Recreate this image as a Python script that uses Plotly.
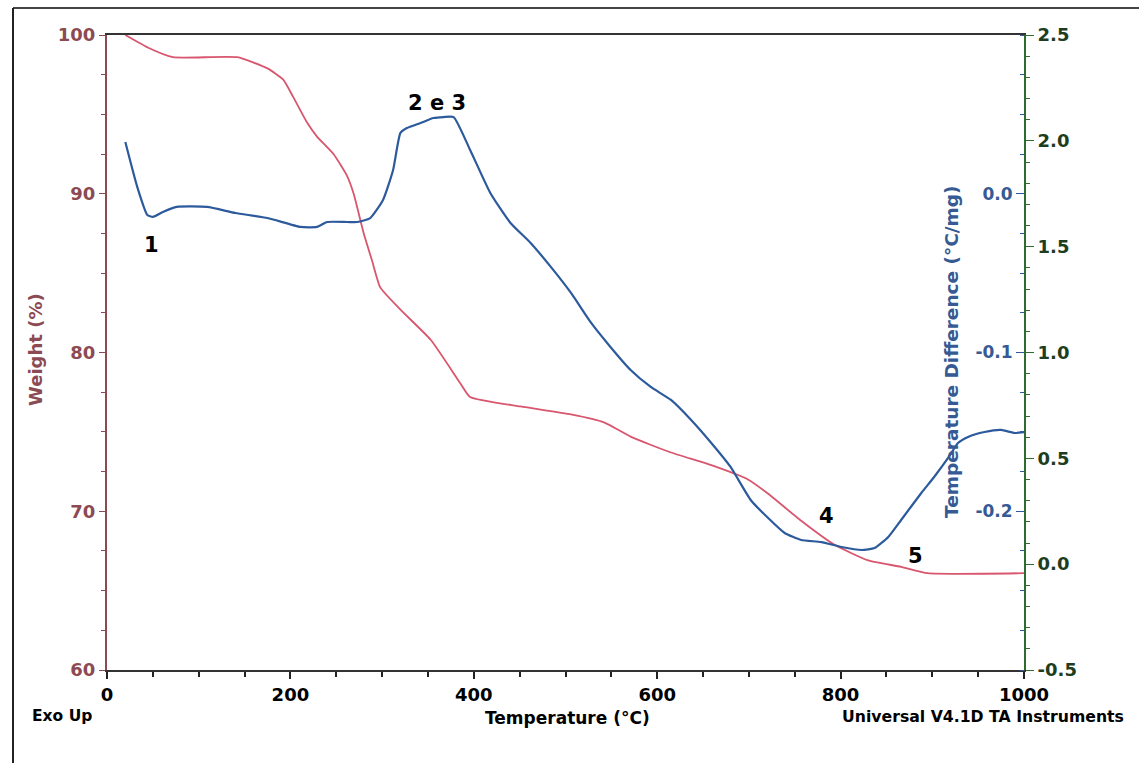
import plotly.graph_objects as go

# Thermogravimetric (TGA) weight curve
temp_weight = [20, 45, 72, 142, 175, 192, 203, 218, 229, 247, 262, 269, 280, 289, 298, 320,
               353, 386, 396, 451, 506, 542, 571, 615, 659, 699, 721, 757, 793, 830, 866, 895, 1000]
weight_pct = [100, 99.2, 98.6, 98.6, 97.9, 97.2, 96.1, 94.5, 93.6, 92.5, 91.1, 90.0, 87.5, 85.8, 84.1, 82.7,
              80.8, 78.0, 77.2, 76.6, 76.1, 75.6, 74.7, 73.7, 72.9, 72.0, 71.1, 69.4, 67.9, 66.9, 66.5, 66.1, 66.1]

# Differential thermal analysis (DTA) curve
temp_dta = [20, 33, 44, 50, 61, 76, 109, 140, 175, 211, 229, 240, 262, 273, 287, 301, 312, 320, 327, 342,
            356, 367, 378, 396, 418, 440, 462, 484, 506, 528, 549, 571, 593, 615, 637, 659, 680, 702, 721,
            739, 757, 779, 801, 823, 837, 852, 866, 888, 902, 918, 928, 939, 957, 975, 990, 1000]
temp_diff = [0.0326, 0.0043, -0.0134, -0.0146, -0.0115, -0.0083, -0.0083, -0.0121, -0.0153, -0.0209,
             -0.0209, -0.0178, -0.0178, -0.0178, -0.0153, -0.0039, 0.0150, 0.0383, 0.0414, 0.0446,
             0.0477, 0.0483, 0.0483, 0.0276, 0.0005, -0.0184, -0.0310, -0.0461, -0.0625, -0.0814,
             -0.0965, -0.1110, -0.1217, -0.1299, -0.1425, -0.1570, -0.1721, -0.1929, -0.2043, -0.2137,
             -0.2181, -0.2194, -0.2225, -0.2244, -0.2232, -0.2162, -0.2055, -0.1885, -0.1784, -0.1658,
             -0.1570, -0.1532, -0.1501, -0.1488, -0.1507, -0.1501]

x_ticks = [0, 200, 400, 600, 800, 1000]
weight_ticks = [60, 70, 80, 90, 100]
diff_ticks = [-0.2, -0.1, 0.0]
deriv_ticks = [-0.5, 0.0, 0.5, 1.0, 1.5, 2.0, 2.5]

# Peak labels: (text, temperature, weight-axis position)
peak_labels = [("1", 49, 86.8), ("2 e 3", 360, 95.7), ("4", 785, 69.7), ("5", 882, 67.2)]

MAROON = "#8C4A52"
RED = "#D8566E"
BLUE = "#2C5A9C"
BLUE_TXT = "#355A94"
GREEN = "#2E6B2E"
GREEN_TXT = "#1D3D1D"
FONT = "DejaVu Sans"

W, H = 1139, 763
L, R, T, B = 107, 1024, 35, 670


def px(xp):
    return (xp - L) / (R - L)


def py(yp):
    return (B - yp) / (B - T)


def fmt(v):
    return f"{v:.1f}"


fig = go.Figure()
fig.add_trace(go.Scatter(x=temp_weight, y=weight_pct, mode="lines", yaxis="y",
                         line=dict(color=RED, width=1.8, shape="spline", smoothing=0.5),
                         showlegend=False, hoverinfo="skip"))
fig.add_trace(go.Scatter(x=temp_dta, y=temp_diff, mode="lines", yaxis="y2",
                         line=dict(color=BLUE, width=2.2, shape="spline", smoothing=0.5),
                         showlegend=False, hoverinfo="skip"))
# empty trace to activate the outer right axis
fig.add_trace(go.Scatter(x=[None], y=[None], yaxis="y3", showlegend=False, hoverinfo="skip"))

tick_font = dict(family=FONT, size=18, weight="bold")

fig.update_layout(
    width=W, height=H,
    margin=dict(l=L, r=W - R, t=T, b=H - B),
    paper_bgcolor="white", plot_bgcolor="white",
    xaxis=dict(range=[0, 1000], tickvals=x_ticks, ticks="outside", ticklen=7, tickwidth=2,
               tickcolor="#222", showline=True, linecolor="#333", linewidth=2, mirror=True,
               showgrid=False, zeroline=False,
               tickfont=dict(tick_font, color="black"),
               minor=dict(dtick=50, ticks="outside", ticklen=5, tickcolor="#222", tickwidth=1.5)),
    yaxis=dict(range=[60, 100], tickvals=weight_ticks, ticks="outside", ticklen=6, tickcolor=MAROON,
               showline=True, linecolor=MAROON, linewidth=2, showgrid=False, zeroline=False,
               tickfont=dict(tick_font, color=MAROON),
               minor=dict(dtick=2.5, ticks="outside", ticklen=4, tickcolor=MAROON)),
    # DTA axis sits on the right-hand axis line, with its labels facing into the plot
    yaxis2=dict(range=[-0.3, 0.1], overlaying="y", side="left", anchor="free", position=1.0,
                tickvals=diff_ticks, ticktext=[fmt(v) for v in diff_ticks],
                ticks="outside", ticklen=8, tickcolor=BLUE,
                showline=False, showgrid=False, zeroline=False,
                tickfont=dict(family=FONT, size=17, weight="bold", color=BLUE_TXT),
                minor=dict(dtick=0.025, ticks="outside", ticklen=4, tickcolor=BLUE)),
    yaxis3=dict(range=[-0.5, 2.5], overlaying="y", side="right", anchor="x",
                tickvals=deriv_ticks, ticktext=[fmt(v) for v in deriv_ticks],
                ticks="outside", ticklen=8, tickcolor=GREEN,
                showline=True, linecolor=GREEN, linewidth=2, showgrid=False, zeroline=False,
                tickfont=dict(tick_font, color=GREEN_TXT),
                minor=dict(dtick=0.1, ticks="outside", ticklen=4, tickcolor=GREEN)),
)

# axis titles and footer texts
ann = [
    dict(text="Weight (%)", x=px(35), y=py(350), textangle=-90,
         font=dict(family=FONT, size=18, weight="bold", color=MAROON)),
    dict(text="Temperature Difference (°C/mg)", x=px(951), y=py(352), textangle=-90,
         font=dict(family=FONT, size=18.5, weight="bold", color=BLUE_TXT)),
    dict(text="Temperature (°C)", x=px(567), y=py(718),
         font=dict(family=FONT, size=17, weight="bold", color="black")),
    dict(text="Exo Up", x=px(62), y=py(716),
         font=dict(family=FONT, size=15.5, weight="bold", color="black")),
    dict(text="Universal V4.1D TA Instruments", x=px(983), y=py(716),
         font=dict(family=FONT, size=15.7, weight="bold", color="black")),
]
for a in ann:
    fig.add_annotation(xref="paper", yref="paper", showarrow=False,
                       xanchor="center", yanchor="middle", **a)

for txt, tx, wy in peak_labels:
    fig.add_annotation(x=tx, y=wy, xref="x", yref="y", text=txt, showarrow=False,
                       font=dict(family=FONT, size=21, weight="bold", color="black"))

# outer frame of the instrument printout
fig.add_shape(type="line", xref="paper", yref="paper", x0=px(13), x1=px(1139), y0=py(8), y1=py(8),
              line=dict(color="#444", width=2))
fig.add_shape(type="line", xref="paper", yref="paper", x0=px(13), x1=px(13), y0=py(8), y1=py(763),
              line=dict(color="#222", width=2))

fig.write_html("out.html")
